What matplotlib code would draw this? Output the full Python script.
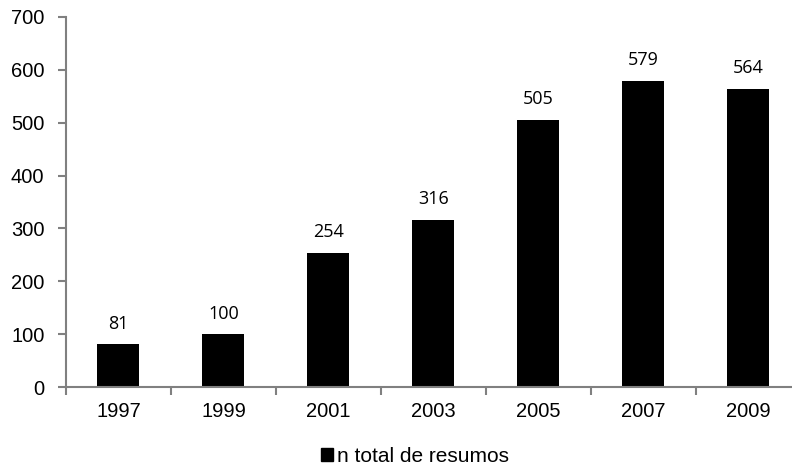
import matplotlib
matplotlib.use("Agg")
import matplotlib.pyplot as plt
from matplotlib.patches import Patch

anos = ['1997', '1999', '2001', '2003', '2005', '2007', '2009']
resumos = [81, 100, 254, 316, 505, 579, 564]
yticks = [0, 100, 200, 300, 400, 500, 600, 700]

plt.rcParams['font.family'] = ['Liberation Sans', 'DejaVu Sans']

fig = plt.figure(figsize=(7.92, 4.69), dpi=100)
ax = fig.add_axes([66 / 792, 1 - 387 / 469, 735 / 792, 370 / 469])

x = list(range(len(anos)))
ax.bar(x, resumos, width=0.4, color='black')

for xi, v in zip(x, resumos):
    ax.text(xi, v + 22, str(v), ha='center', va='bottom', fontsize=13,
            family=['Open Sans', 'DejaVu Sans'])

ax.set_xlim(-0.5, len(anos) - 0.5)
ax.set_ylim(0, 700)
ax.set_yticks(yticks)
ax.set_yticklabels([str(t) for t in yticks], fontsize=14.5)

# rótulos no centro, marcas entre categorias
ax.set_xticks(x)
ax.set_xticklabels(anos, fontsize=14.5)
ax.tick_params(axis='x', length=0, pad=11)
ax.set_xticks([i + 0.5 for i in range(-1, len(anos))], minor=True)
ax.tick_params(axis='x', which='minor', length=6, color='#808080', width=1.5)
ax.tick_params(axis='y', length=6, color='#808080', width=1.5, pad=9.5)

for s in ['top', 'right']:
    ax.spines[s].set_visible(False)
for s in ['left', 'bottom']:
    ax.spines[s].set_color('#808080')
    ax.spines[s].set_linewidth(1.5)

fig.legend(handles=[Patch(color='black', label='n total de resumos')],
           loc='center', bbox_to_anchor=(415 / 792, 1 - 456 / 469),
           frameon=False, fontsize=15, handlelength=0.6, handleheight=0.6,
           handletextpad=0.2)

fig.savefig('out.png', dpi=100)
